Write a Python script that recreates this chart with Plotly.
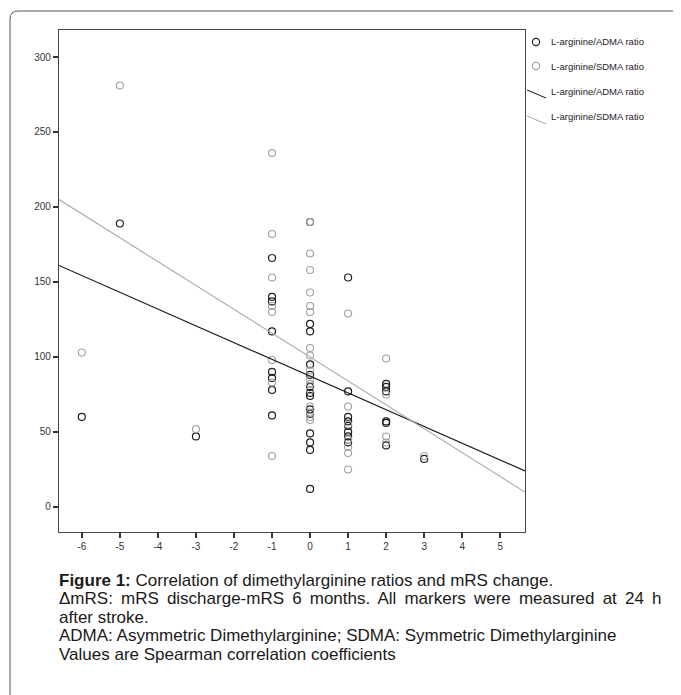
import numpy as np
import plotly.graph_objects as go

# ---- data ----
adma_x = [-6, -5, -3,
          -1, -1, -1, -1, -1, -1, -1, -1,
          0, 0, 0, 0, 0, 0, 0, 0, 0, 0, 0, 0, 0, 0,
          1, 1, 1, 1, 1, 1, 1, 1,
          2, 2, 2, 2, 2, 2,
          3]
adma_y = [60, 189, 47,
          166, 140, 137, 117, 90, 86, 78, 61,
          190, 122, 117, 95, 88, 80, 76, 74, 65, 62, 49, 43, 38, 12,
          153, 77, 60, 57, 54, 50, 47, 43,
          82, 80, 77, 57, 56, 41,
          32]

sdma_x = [-6, -5, -3,
          -1, -1, -1, -1, -1, -1, -1, -1,
          0, 0, 0, 0, 0, 0, 0, 0, 0, 0, 0, 0, 0, 0, 0, 0,
          1, 1, 1, 1, 1, 1, 1,
          2, 2, 2, 2,
          3]
sdma_y = [103, 281, 52,
          236, 182, 153, 134, 130, 98, 83, 34,
          190, 169, 158, 143, 134, 130, 106, 101, 91, 85, 82, 78, 67, 63, 60, 58,
          129, 67, 55, 45, 40, 36, 25,
          99, 75, 47, 43,
          34]

# linear fit lines (value at x=0, slope)
fit_names = ["L-arginine/ADMA ratio", "L-arginine/SDMA ratio"]
fit_intercept = [87.2, 99.9]
fit_slope = [-11.18, -15.92]

legend_labels = ["L-arginine/ADMA ratio", "L-arginine/SDMA ratio",
                 "L-arginine/ADMA ratio", "L-arginine/SDMA ratio"]

x_ticks = list(range(-6, 6))
x_tick_labels = ["-6", "-5", "-4", "-3", "-2", "-1", "0", "1", "2", "3", "4", "5"]
y_ticks = [0, 50, 100, 150, 200, 250, 300]
y_tick_labels = ["0", "50", "100", "150", "200", "250", "300"]
x_range = [-6.6, 5.65]
y_range = [-16.7, 318]

SP = "\u2009 "
caption_lines = [
    "<b>Figure 1:</b> Correlation of dimethylarginine ratios and mRS change.",
    SP.join("\u0394mRS: mRS discharge-mRS 6 months. All markers were measured at 24 h".split(" ")),
    "after stroke.",
    "ADMA: Asymmetric Dimethylarginine; SDMA: Symmetric Dimethylarginine",
    "Values are Spearman correlation coefficients",
]

# ---- layout in figure pixels (page body adds an 8px margin) ----
W, H = 673, 687
L, R, T, B = 51, 517, 22, 524
pw, ph = R - L, B - T
FONT = "Liberation Sans, Arial, sans-serif"
caption_y = [572, 590.5, 609, 627.5, 646]
legend_rows = [34, 58, 83, 109]
DARK, GREY = "#1e1e1e", "#a0a0a0"


def px(xp):
    return (xp - L) / pw


def py(yp):
    return (B - yp) / ph


fig = go.Figure()
fig.add_trace(go.Scatter(
    x=adma_x, y=adma_y, mode="markers", name=legend_labels[0], showlegend=False,
    marker=dict(symbol="circle-open", size=7, color=DARK, line=dict(width=1.2)),
))
fig.add_trace(go.Scatter(
    x=sdma_x, y=sdma_y, mode="markers", name=legend_labels[1], showlegend=False,
    marker=dict(symbol="circle-open", size=7, color=GREY, line=dict(width=1.1)),
))
fx = np.array(x_range)
line_colors = ["#141414", "#a8a8a8"]
for i in range(2):
    fig.add_trace(go.Scatter(
        x=fx, y=fit_intercept[i] + fit_slope[i] * fx, mode="lines",
        name=fit_names[i], showlegend=False,
        line=dict(color=line_colors[i], width=1.1),
    ))

shapes = []
# outer rounded frame (top + left edges)
x0, yt = px(2), py(3)
rx, ry = 8 / pw, 8 / ph
shapes.append(dict(
    type="path", xref="paper", yref="paper",
    path=(f"M {x0},{py(700)} L {x0},{yt - ry} Q {x0},{yt} {x0 + rx},{yt} "
          f"L {px(690)},{yt}"),
    line=dict(color="#555", width=1)))

# legend glyphs (drawn at the right of the plot)
leg_cx, leg_r = 528, 3.6
for r, col in zip(legend_rows[:2], [DARK, GREY]):
    shapes.append(dict(type="circle", xref="paper", yref="paper",
                       x0=px(leg_cx - leg_r), x1=px(leg_cx + leg_r),
                       y0=py(r + leg_r), y1=py(r - leg_r),
                       line=dict(color=col, width=1.1)))
for r, col in zip(legend_rows[2:], line_colors):
    shapes.append(dict(type="line", xref="paper", yref="paper",
                       x0=px(519), y0=py(r - 1), x1=px(538), y1=py(r + 7),
                       line=dict(color=col, width=1)))

annotations = []
for lab, r in zip(legend_labels, legend_rows):
    annotations.append(dict(
        xref="paper", yref="paper", x=px(541), y=py(r),
        xanchor="left", yanchor="middle", showarrow=False, text=lab,
        font=dict(family=FONT, size=9.5, color="#222")))

for txt, yc in zip(caption_lines, caption_y):
    annotations.append(dict(
        xref="paper", yref="paper", x=px(49), y=py(yc),
        xanchor="left", yanchor="middle", align="left", showarrow=False,
        text=txt, font=dict(family=FONT, size=17, color="#1a1a1a")))

axis_common = dict(
    showgrid=False, zeroline=False, showline=True, mirror=True,
    linecolor="#444", linewidth=1.2, ticks="outside", ticklen=5,
    tickcolor="#333", tickwidth=1.5,
    tickfont=dict(family=FONT, size=10, color="#333"),
)
fig.update_xaxes(range=x_range, tickvals=x_ticks, ticktext=x_tick_labels, **axis_common)
fig.update_yaxes(range=y_range, tickvals=y_ticks, ticktext=y_tick_labels, **axis_common)

fig.update_layout(
    width=W, height=H,
    margin=dict(l=L, r=W - R, t=T, b=H - B, autoexpand=False),
    paper_bgcolor="white", plot_bgcolor="white",
    showlegend=False, shapes=shapes, annotations=annotations,
)

fig.write_html("out.html")
